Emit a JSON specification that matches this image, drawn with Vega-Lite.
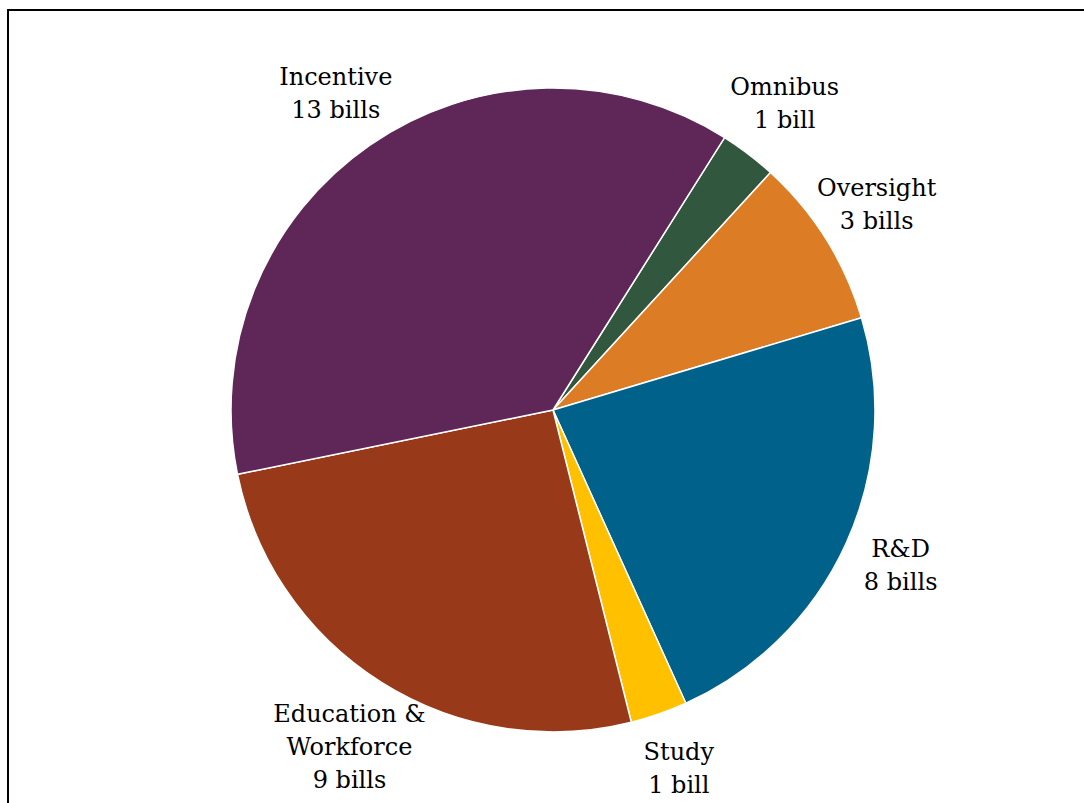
{
  "$schema": "https://vega.github.io/schema/vega-lite/v6.json",
  "autosize": {"type": "none"},
  "padding": {"left": 8, "top": 10, "right": 0, "bottom": 0},
  "width": 1090,
  "height": 800,
  "background": "white",
  "view": {"stroke": "black", "strokeWidth": 2},
  "data": {
    "values": [
      {"category": "Omnibus", "bills": 1, "rank": 1, "label": "Omnibus\n1 bill"},
      {"category": "Oversight", "bills": 3, "rank": 2, "label": "Oversight\n3 bills"},
      {"category": "R&D", "bills": 8, "rank": 3, "label": "R&D\n8 bills"},
      {"category": "Study", "bills": 1, "rank": 4, "label": "Study\n1 bill"},
      {"category": "Education & Workforce", "bills": 9, "rank": 5, "label": "Education &\nWorkforce\n9 bills"},
      {"category": "Incentive", "bills": 13, "rank": 6, "label": "Incentive\n13 bills"}
    ]
  },
  "encoding": {
    "theta": {"field": "bills", "type": "quantitative", "stack": true, "scale": {"range": [0.562, 6.8452]}},
    "order": {"field": "rank", "type": "quantitative"}
  },
  "layer": [
    {
      "mark": {"type": "arc", "outerRadius": 322, "stroke": "white", "strokeWidth": 1.5},
      "encoding": {
        "color": {
          "field": "category",
          "type": "nominal",
          "legend": null,
          "scale": {
            "domain": ["Omnibus", "Oversight", "R&D", "Study", "Education & Workforce", "Incentive"],
            "range": ["#31573F", "#DC7C25", "#00618A", "#FFC000", "#983A1A", "#5E2758"]
          }
        }
      }
    },
    {
      "mark": {"type": "text", "radius": 382, "dy": -18, "font": "DejaVu Serif", "fontSize": 24, "lineBreak": "\n", "lineHeight": 33, "align": "center", "baseline": "middle", "color": "black"},
      "encoding": {"text": {"field": "label", "type": "nominal"}}
    }
  ]
}
